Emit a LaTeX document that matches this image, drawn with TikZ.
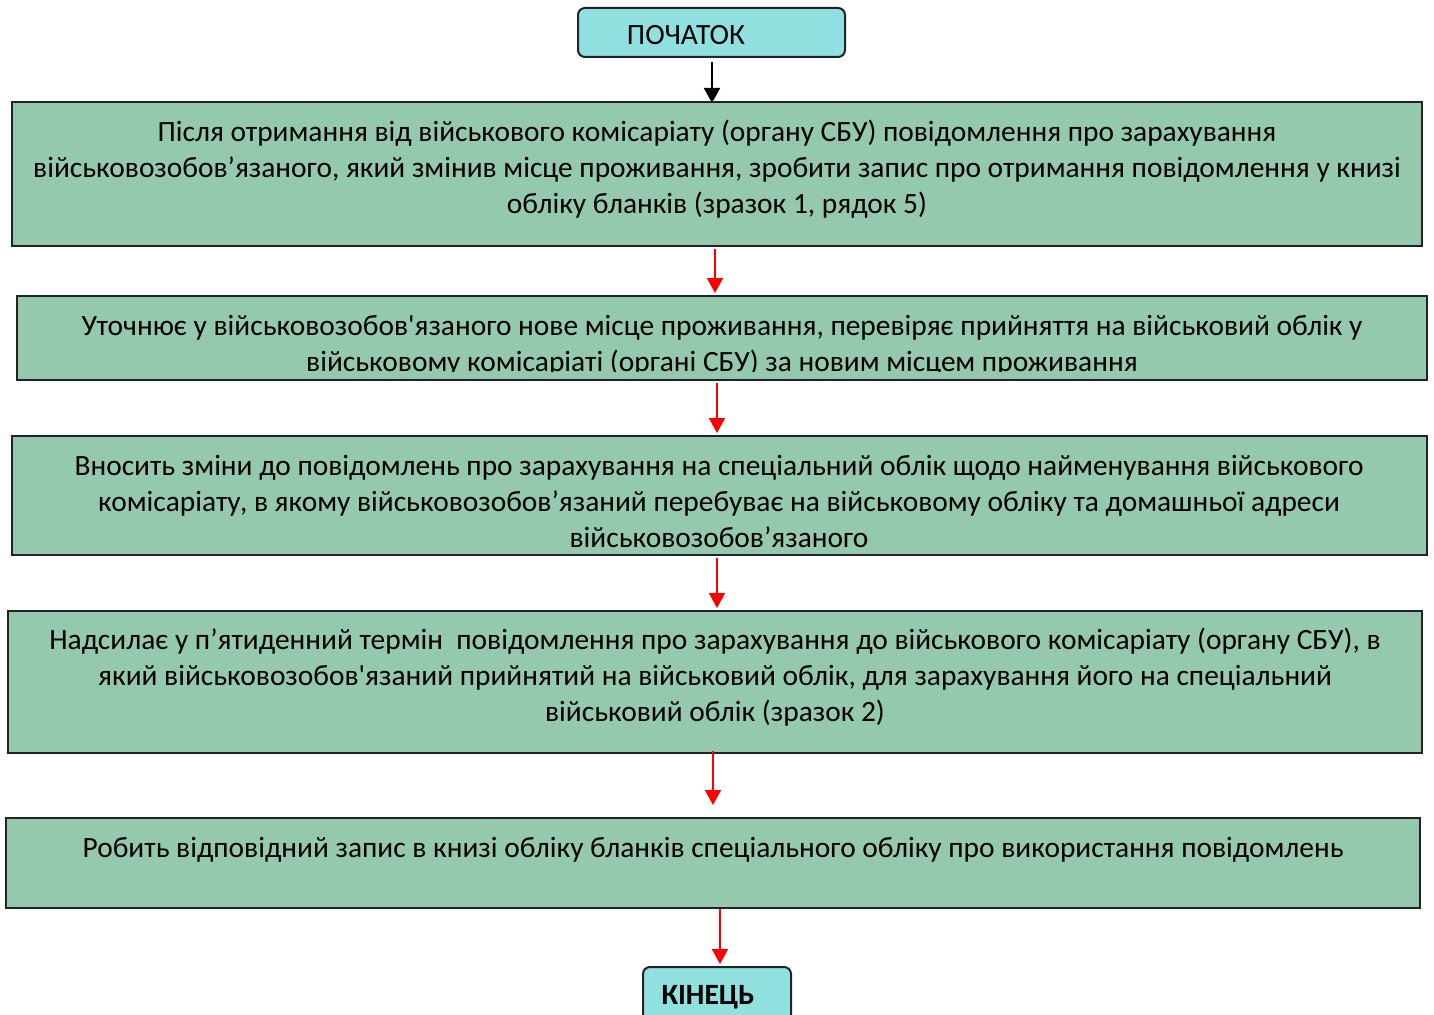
\documentclass[tikz,border=0pt]{standalone}
\usepackage{fontspec}
\setmainfont{Carlito}
\usetikzlibrary{arrows.meta}
\definecolor{boxgreen}{RGB}{148,201,174}
\definecolor{boxcyan}{RGB}{145,224,224}
\definecolor{edge}{RGB}{35,35,35}
\begin{document}
\begin{tikzpicture}[x=1pt,y=-1pt,
  stepbox/.style={draw=edge,line width=2pt,fill=boxgreen,rectangle,inner sep=0pt},
  termbox/.style={draw=edge,line width=2pt,fill=boxcyan,rectangle,rounded corners=7pt,inner sep=0pt},
  txt/.style={align=center,inner sep=0pt,font=\fontsize{29.4}{36}\selectfont},
  redarrow/.style={draw=red,line width=1.8pt,-{Triangle[width=16pt,length=15pt]}},
  blackarrow/.style={draw=black,line width=1.8pt,-{Triangle[width=16pt,length=15pt]}}]
\clip (0,0) rectangle (1434,1014);
\useasboundingbox (0,0) rectangle (1434,1014);
\fill[white] (0,0) rectangle (1434,1014);

% start
\node[termbox,minimum width=267pt,minimum height=49pt] (start) at (711.5,32.5) {};
\node[txt] (starttxt) at (686,35) {ПОЧАТОК};

% box 1
\node[stepbox,minimum width=1410pt,minimum height=144pt] (b1) at (717,174) {};
\node[txt] (t1) at (717,169.5) {Після отримання від військового комісаріату (органу СБУ) повідомлення про зарахування\\
військовозобов’язаного, який змінив місце проживання, зробити запис про отримання повідомлення у книзі\\
обліку бланків (зразок 1, рядок 5)};

% box 2
\node[stepbox,minimum width=1410pt,minimum height=84pt] (b2) at (722,338) {};
\begin{scope}
\clip (17,296) rectangle (1427,371);
\node[txt] (t2) at (722,345.5) {Уточнює у військовозобов\textquotesingle язаного нове місце проживання, перевіряє прийняття на військовий облік у\\
військовому комісаріаті (органі СБУ) за новим місцем проживання};
\end{scope}

% box 3
\node[stepbox,minimum width=1415pt,minimum height=119pt] (b3) at (719.5,495.5) {};
\node[txt] (t3) at (719,501.5) {Вносить зміни до повідомлень про зарахування на спеціальний облік щодо найменування військового\\
комісаріату, в якому військовозобов’язаний перебуває на військовому обліку та домашньої адреси\\
військовозобов’язаного};

% box 4
\node[stepbox,minimum width=1414pt,minimum height=142pt] (b4) at (715,682) {};
\node[txt] (t4) at (715,677.5) {Надсилає у п’ятиденний термін\ \ повідомлення про зарахування до військового комісаріату (органу СБУ), в\\
який військовозобов\textquotesingle язаний прийнятий на військовий облік, для зарахування його на спеціальний\\
військовий облік (зразок 2)};

% box 5
\node[stepbox,minimum width=1414pt,minimum height=90pt] (b5) at (713,863) {};
\node[txt] (t5) at (713,850) {Робить відповідний запис в книзі обліку бланків спеціального обліку про використання повідомлень};

% end
\node[termbox,minimum width=148pt,minimum height=60pt] (end) at (717,997) {};
\node[txt,font=\fontsize{29.4}{36}\selectfont\bfseries] (endtxt) at (708,997) {КІНЕЦЬ};

% arrow x positions
\coordinate (x0) at (712,0);
\coordinate (x1) at (715,0);
\coordinate (x2) at (717,0);
\coordinate (x3) at (717,0);
\coordinate (x4) at (713,0);
\coordinate (x5) at (720,0);

\draw[blackarrow] ([yshift=-4pt]start.south -| x0) -- ([yshift=-2pt]b1.north -| x0);
\draw[redarrow] ([yshift=-2pt]b1.south -| x1) -- ([yshift=2pt]b2.north -| x1);
\draw[redarrow] ([yshift=-2pt]b2.south -| x2) -- ([yshift=2pt]b3.north -| x2);
\draw[redarrow] ([yshift=-2pt]b3.south -| x3) -- ([yshift=2pt]b4.north -| x3);
\draw[redarrow] ([yshift=3pt]b4.south -| x4) -- ([yshift=12pt]b5.north -| x4);
\draw[redarrow] (b5.south -| x5) -- ([yshift=2pt]end.north -| x5);
\end{tikzpicture}
\end{document}
